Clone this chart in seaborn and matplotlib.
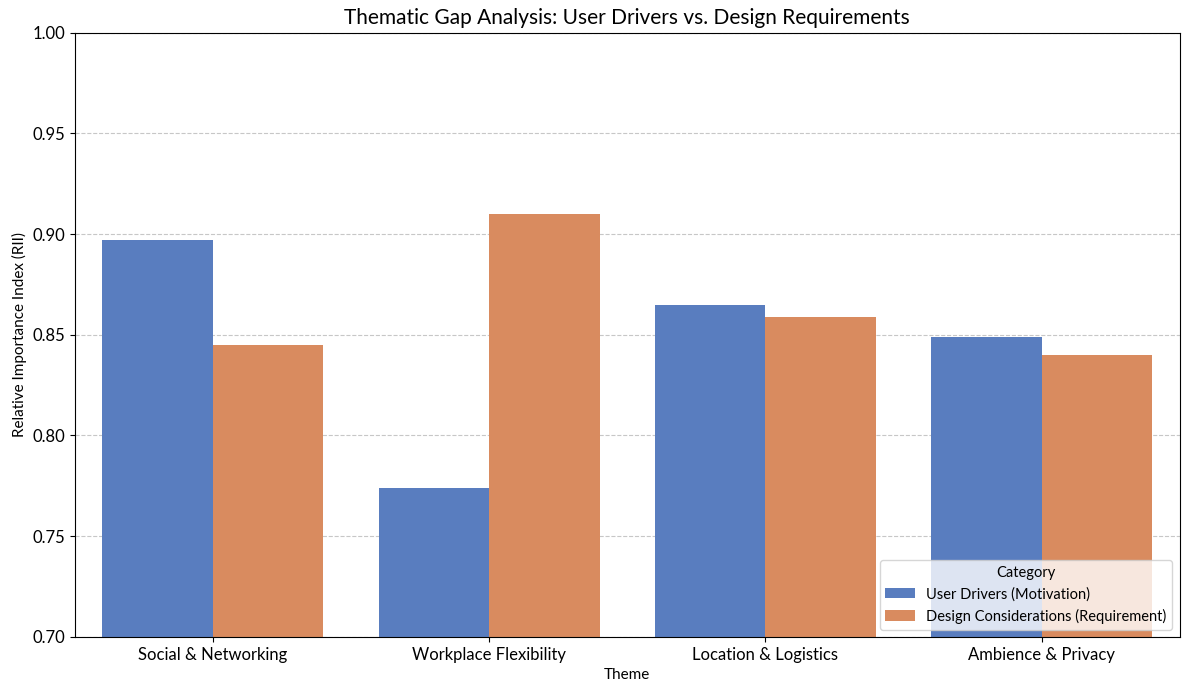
import pandas as pd
import seaborn as sns
import matplotlib.pyplot as plt

themes = ["Social & Networking", "Workplace Flexibility", "Location & Logistics", "Ambience & Privacy"]
user_drivers = [0.897, 0.774, 0.865, 0.849]
design_reqs = [0.845, 0.910, 0.859, 0.840]
categories = ["User Drivers (Motivation)", "Design Considerations (Requirement)"]

df = pd.DataFrame({
    "Theme": themes * 2,
    "RII": user_drivers + design_reqs,
    "Category": [categories[0]] * len(themes) + [categories[1]] * len(themes),
})

plt.rcParams['font.family'] = ['Lato', 'DejaVu Sans']

fig, ax = plt.subplots(figsize=(11.88, 6.84), dpi=100)
sns.barplot(data=df, x="Theme", y="RII", hue="Category", palette="muted", ax=ax, zorder=2)

ax.set_ylim(0.70, 1.00)
ax.grid(axis='y', linestyle='--', alpha=0.7, zorder=0)
ax.set_axisbelow(True)
ax.set_title("Thematic Gap Analysis: User Drivers vs. Design Requirements", fontsize=15)
ax.set_xlabel("Theme", fontsize=11)
ax.set_ylabel("Relative Importance Index (RII)", fontsize=11)
ax.tick_params(axis='both', labelsize=12)
ax.legend(title="Category", loc="lower right", fontsize=10.5, title_fontsize=10.5)

plt.subplots_adjust(left=0.063, right=0.993, top=0.952, bottom=0.069)
plt.savefig("out.png")
